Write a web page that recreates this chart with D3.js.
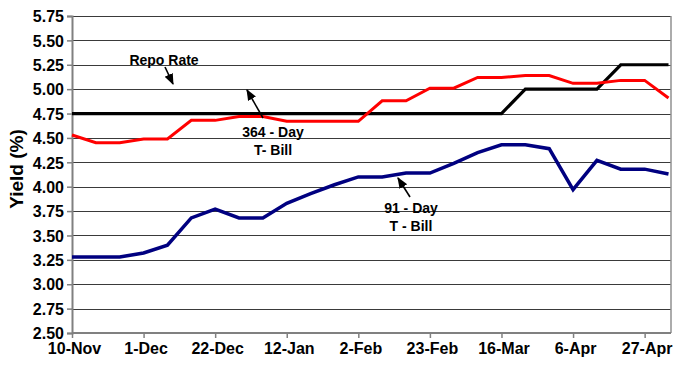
<script src="https://d3js.org/d3.v7.min.js"></script>

<style>
  body { margin: 0; background: #fff; }
  text { font-family: Arial, "Liberation Sans", sans-serif; font-weight: bold; fill: #000; }
  .grid line { stroke: #3a3a3a; stroke-width: 1px; shape-rendering: crispEdges; }
  .axis path, .axis line { stroke: #808080; }
  .series { fill: none; stroke-linejoin: miter; }
</style>

<body>
<div id="chart"></div>

<script>
  // weekly observations
  var dates = ["2009-11-10", "2009-11-17", "2009-11-24", "2009-12-01", "2009-12-08", "2009-12-15",
               "2009-12-22", "2009-12-29", "2010-01-05", "2010-01-12", "2010-01-19", "2010-01-26",
               "2010-02-02", "2010-02-09", "2010-02-16", "2010-02-23", "2010-03-02", "2010-03-09",
               "2010-03-16", "2010-03-23", "2010-03-30", "2010-04-06", "2010-04-13", "2010-04-20",
               "2010-04-27", "2010-05-04"];

  var repoRate = [4.75, 4.75, 4.75, 4.75, 4.75, 4.75, 4.75, 4.75, 4.75, 4.75, 4.75, 4.75, 4.75,
                  4.75, 4.75, 4.75, 4.75, 4.75, 4.75, 5.00, 5.00, 5.00, 5.00, 5.25, 5.25, 5.25];

  var tbill364 = [4.53, 4.45, 4.45, 4.49, 4.49, 4.68, 4.68, 4.72, 4.72, 4.67, 4.67, 4.67, 4.67,
                  4.88, 4.88, 5.01, 5.01, 5.12, 5.12, 5.14, 5.14, 5.06, 5.06, 5.09, 5.09, 4.91];

  var tbill91 = [3.28, 3.28, 3.28, 3.32, 3.40, 3.68, 3.77, 3.68, 3.68, 3.83, 3.93, 4.02, 4.10,
                 4.10, 4.14, 4.14, 4.24, 4.35, 4.43, 4.43, 4.39, 3.97, 4.27, 4.18, 4.18, 4.13];

  var xTickDates = ["2009-11-10", "2009-12-01", "2009-12-22", "2010-01-12", "2010-02-02",
                    "2010-02-23", "2010-03-16", "2010-04-06", "2010-04-27"];
  var yTicks = [2.50, 2.75, 3.00, 3.25, 3.50, 3.75, 4.00, 4.25, 4.50, 4.75, 5.00, 5.25, 5.50, 5.75];

  var width = 676,
      height = 365;

  var parse = d3.utcParse("%Y-%m-%d");
  var fmt = d3.utcFormat("%-d-%b");
  var days = dates.map(parse);

  var svg = d3.select("#chart")
      .append("svg")
      .attr("width", width)
      .attr("height", height);

  var x = d3.scaleUtc()
      .domain([days[0], days[days.length - 1]])
      .range([72, 668.5]);

  var y = d3.scaleLinear()
      .domain([2.5, 5.75])
      .range([333, 16]);

  // horizontal gridlines
  svg.append("g")
      .attr("class", "grid")
    .selectAll("line")
      .data(yTicks.slice(1))
    .enter().append("line")
      .attr("x1", 72)
      .attr("x2", 671)
      .attr("y1", function(d) { return Math.round(y(d)) + 0.5; })
      .attr("y2", function(d) { return Math.round(y(d)) + 0.5; });

  // right border of plot area
  svg.append("line")
      .attr("x1", 671).attr("x2", 671)
      .attr("y1", y(5.75)).attr("y2", y(2.5))
      .attr("stroke", "#909090")
      .attr("stroke-width", 1.5);

  // y axis
  var yAxis = svg.append("g")
      .attr("class", "axis")
      .attr("transform", "translate(72,0)")
      .call(d3.axisLeft(y).tickValues(yTicks).tickFormat(d3.format(".2f")).tickSize(5).tickPadding(3));
  yAxis.select(".domain").attr("stroke-width", 2);
  yAxis.selectAll("line").attr("stroke-width", 1.5);
  yAxis.selectAll("text").style("font-size", "16px").attr("dy", "0.36em");

  // x axis
  var xAxis = svg.append("g")
      .attr("class", "axis")
      .attr("transform", "translate(0,333)")
      .call(d3.axisBottom(x).tickValues(xTickDates.map(parse)).tickFormat(fmt).tickSize(5).tickPadding(5)
        .tickSizeOuter(0));
  xAxis.select(".domain").attr("stroke-width", 2).attr("d", "M72,0H671");
  xAxis.selectAll("line").attr("stroke-width", 1.5);
  xAxis.selectAll("text").style("font-size", "16px").attr("dx", 2);

  svg.append("text")
      .attr("transform", "translate(23,169) rotate(-90)")
      .attr("text-anchor", "middle")
      .style("font-size", "19px")
      .text("Yield (%)");

  // series
  function lineFor(values) {
    return d3.line()
        .x(function(d, i) { return x(days[i]); })
        .y(function(d) { return y(d); })(values);
  }

  svg.append("path")
      .attr("class", "series")
      .attr("d", lineFor(repoRate))
      .attr("stroke", "#000000")
      .attr("stroke-width", 3.2);

  svg.append("path")
      .attr("class", "series")
      .attr("d", lineFor(tbill364))
      .attr("stroke", "#ff0000")
      .attr("stroke-width", 3);

  svg.append("path")
      .attr("class", "series")
      .attr("d", lineFor(tbill91))
      .attr("stroke", "#000080")
      .attr("stroke-width", 3.5);

  // annotations
  svg.append("defs").append("marker")
      .attr("id", "arrow")
      .attr("viewBox", "0 0 10 10")
      .attr("refX", 9).attr("refY", 5)
      .attr("markerWidth", 7).attr("markerHeight", 7)
      .attr("orient", "auto")
    .append("path")
      .attr("d", "M0,1L10,5L0,9Z")
      .attr("fill", "#000");

  var notes = [
    {lines: ["Repo Rate"], x: 164, y: 65, from: [165, 67], to: [173, 84]},
    {lines: ["364 - Day", "T- Bill"], x: 273, y: 137, from: [263, 118], to: [247, 90]},
    {lines: ["91 - Day", "T - Bill"], x: 411, y: 213, from: [410, 197], to: [398, 178]}
  ];

  notes.forEach(function(n) {
    var t = svg.append("text")
        .attr("text-anchor", "middle")
        .style("font-size", "14px");
    n.lines.forEach(function(s, i) {
      t.append("tspan").attr("x", n.x).attr("y", n.y + i * 17.5).text(s);
    });
    svg.append("line")
        .attr("x1", n.from[0]).attr("y1", n.from[1])
        .attr("x2", n.to[0]).attr("y2", n.to[1])
        .attr("stroke", "#000")
        .attr("stroke-width", 1.6)
        .attr("marker-end", "url(#arrow)");
  });
</script>
</body>
